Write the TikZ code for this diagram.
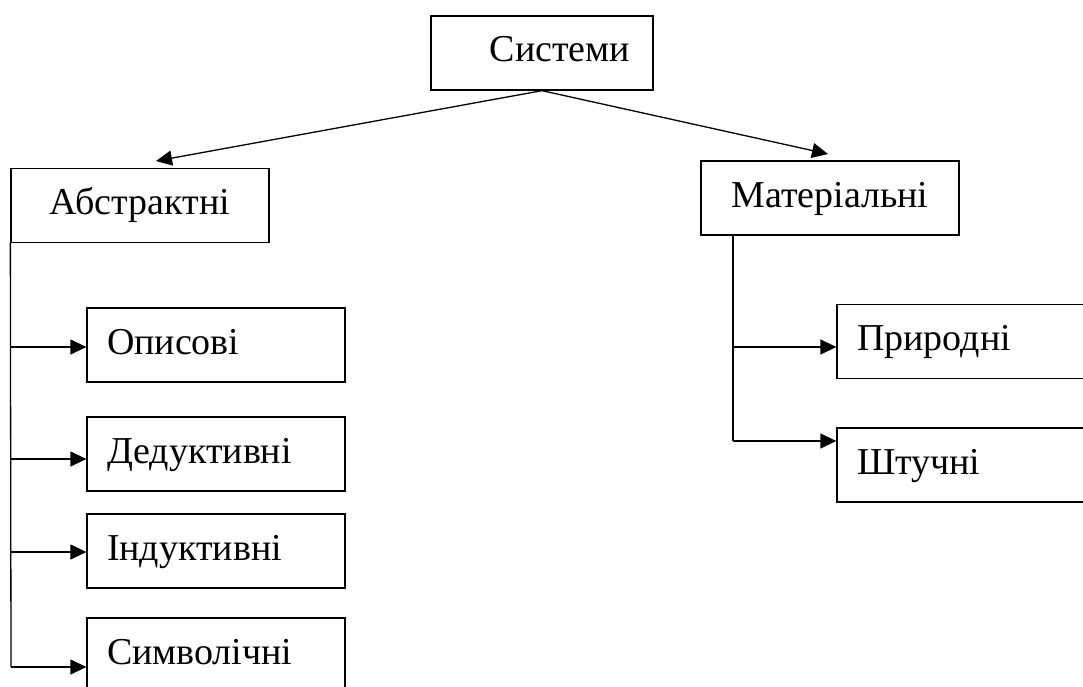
\documentclass[tikz,border=0pt]{standalone}
\usepackage{fontspec}
\setmainfont{Liberation Serif}
\usetikzlibrary{arrows.meta}
\begin{document}
\begin{tikzpicture}[x=1pt,y=-1pt,
  box/.style={draw, line width=1.3pt, minimum height=74pt, inner ysep=0pt,
    font=\fontsize{38}{45}\selectfont, text height=25pt, text depth=7pt},
  cbox/.style={box, minimum width=#1, align=center},
  lbox/.style={box, inner xsep=20pt, text width=218pt, align=left},
  conn/.style={line width=1.3pt},
  arr/.style={conn, -{Triangle[length=16pt,width=15pt]}}]
\useasboundingbox (0,0) rectangle (1083,687);
\clip (0,0) rectangle (1083,687);

\node[cbox=222pt] (sys) at (542,53) {\hspace*{36pt}Системи};
\node[cbox=258pt] (abs) at (140,205.5) {Абстрактні};
\node[cbox=258pt] (mat) at (830,198) {Матеріальні};

\node[lbox] (op)  at (216,345) {Описові};
\node[lbox] (ded) at (216,454) {Дедуктивні};
\node[lbox] (ind) at (216,551) {Індуктивні};
\node[lbox] (sym) at (216,655) {Символічні};

\node[lbox] (pri) at (966,341.5) {Природні};
\node[lbox] (sht) at (966,465) {Штучні};

\coordinate (absin) at (156,161);
\coordinate (matin) at (828,154);
\draw[arr] (sys.south) -- (absin);
\draw[arr] (sys.south) -- (matin);

% left trunk
\coordinate (l1) at (11,347);
\coordinate (l2) at (11,459);
\coordinate (l3) at (11,552);
\coordinate (l4) at (11,667);
\draw[conn] (abs.south west) -- (l4);
\draw[arr] (l1) -- (l1 -| op.west);
\draw[arr] (l2) -- (l2 -| ded.west);
\draw[arr] (l3) -- (l3 -| ind.west);
\draw[arr] (l4) -- (l4 -| sym.west);

% right trunk
\coordinate (rtop) at (733,235);
\coordinate (r1) at (733,347);
\coordinate (r2) at (733,441);
\draw[conn] (rtop) -- (r2);
\draw[arr] (r1) -- (r1 -| pri.west);
\draw[arr] (r2) -- (r2 -| sht.west);
\end{tikzpicture}
\end{document}
